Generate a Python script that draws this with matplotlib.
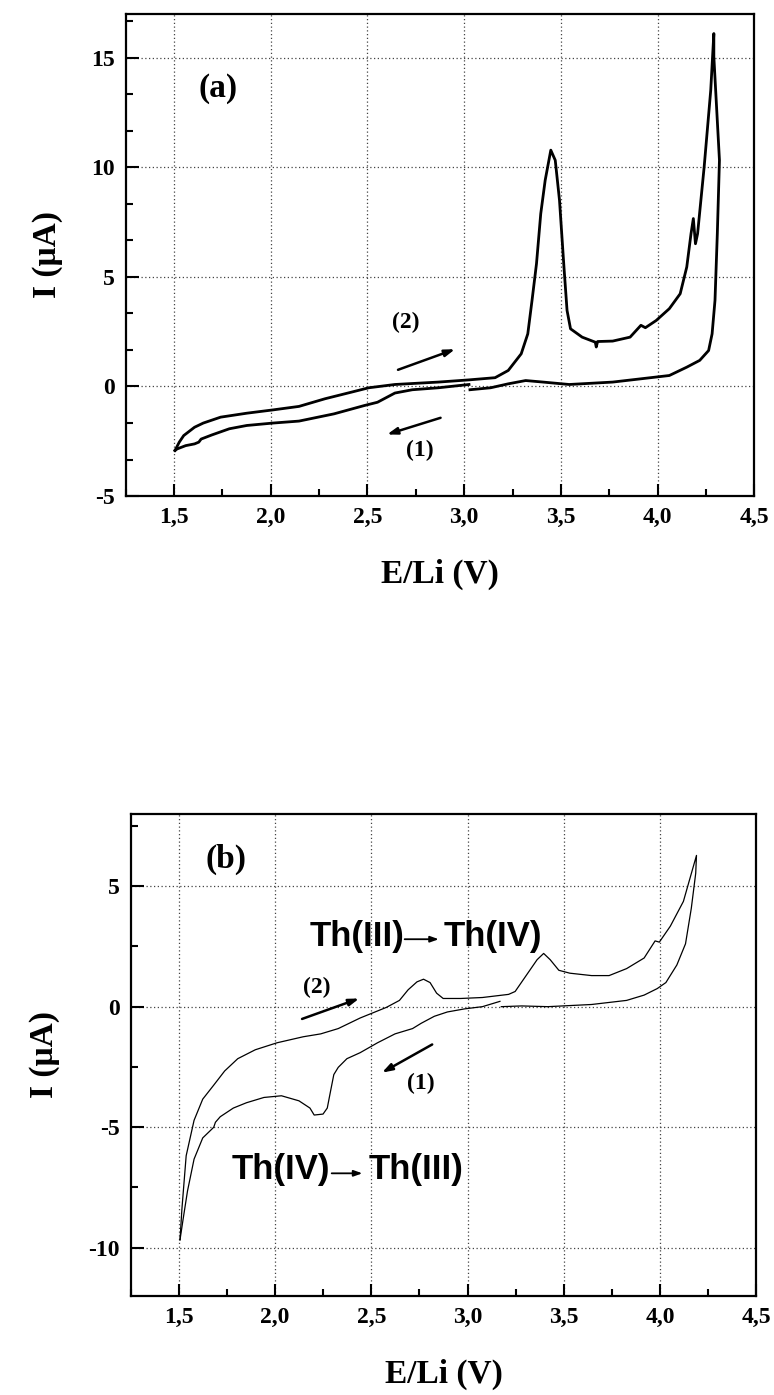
import numpy as np
import matplotlib
matplotlib.use("Agg")
import matplotlib.pyplot as plt
from matplotlib.ticker import MultipleLocator, AutoMinorLocator, FuncFormatter

# ---- panel (a): cyclic voltammogram, thick trace ----
# sweep (1): 3.03 V -> 1.5 V (lower branch)
a_sweep1_E = [3.025, 2.867, 2.732, 2.642, 2.552, 2.484, 2.327, 2.146, 2.011, 1.876,
              1.786, 1.696, 1.640, 1.628, 1.606, 1.560, 1.516, 1.505]
a_sweep1_I = [0.09, -0.06, -0.15, -0.30, -0.72, -0.87, -1.25, -1.58, -1.67, -1.78,
              -1.93, -2.21, -2.40, -2.54, -2.62, -2.70, -2.85, -2.92]
# sweep (2): 1.5 V -> 4.3 V and back to 3.03 V
a_sweep2_E = [1.505, 1.527, 1.550, 1.606, 1.651, 1.741, 1.876, 2.011, 2.146, 2.281,
              2.417, 2.507, 2.642, 2.867, 3.025, 3.160, 3.228, 3.295, 3.329, 3.351,
              3.374, 3.396, 3.419, 3.448, 3.471, 3.493, 3.516, 3.532, 3.550, 3.610,
              3.678, 3.683, 3.690, 3.768, 3.858, 3.914, 3.937, 3.993, 4.061, 4.117,
              4.151, 4.173, 4.185, 4.196, 4.207, 4.241, 4.275, 4.291, 4.291, 4.320,
              4.309, 4.297, 4.282, 4.264, 4.218, 4.151, 4.061, 3.993, 3.768, 3.543,
              3.408, 3.318, 3.228, 3.137, 3.030]
a_sweep2_I = [-2.92, -2.54, -2.24, -1.86, -1.67, -1.40, -1.22, -1.07, -0.91, -0.56,
              -0.26, -0.06, 0.09, 0.20, 0.30, 0.40, 0.73, 1.49, 2.40, 3.93,
              5.60, 7.88, 9.41, 10.78, 10.32, 8.49, 5.45, 3.47, 2.63, 2.25,
              2.02, 1.80, 2.05, 2.07, 2.25, 2.79, 2.68, 3.01, 3.55, 4.23,
              5.45, 6.97, 7.66, 6.51, 6.97, 10.02, 13.52, 16.10, 15.04, 10.32,
              6.97, 3.93, 2.40, 1.64, 1.19, 0.88, 0.50, 0.43, 0.20, 0.09,
              0.20, 0.27, 0.12, -0.06, -0.15]

# ---- panel (b): thin trace ----
b_sweep1_E = [3.168, 3.077, 2.986, 2.895, 2.827, 2.759, 2.714, 2.623, 2.532, 2.442,
              2.373, 2.328, 2.305, 2.287, 2.271, 2.249, 2.203, 2.181, 2.124, 2.033,
              1.942, 1.851, 1.783, 1.715, 1.690, 1.681, 1.624, 1.579, 1.545, 1.522, 1.506]
b_sweep1_I = [0.22, 0.00, -0.09, -0.22, -0.40, -0.69, -0.91, -1.13, -1.50, -1.91,
              -2.16, -2.52, -2.82, -3.55, -4.21, -4.46, -4.50, -4.21, -3.91, -3.70,
              -3.77, -3.99, -4.21, -4.57, -4.80, -5.01, -5.45, -6.33, -7.65, -8.83, -9.68]
b_sweep2_E = [1.506, 1.516, 1.538, 1.579, 1.624, 1.681, 1.738, 1.806, 1.897, 2.010,
              2.146, 2.237, 2.328, 2.442, 2.578, 2.646, 2.691, 2.737, 2.771, 2.805,
              2.839, 2.873, 2.964, 3.077, 3.213, 3.247, 3.304, 3.361, 3.395, 3.429,
              3.474, 3.531, 3.644, 3.735, 3.826, 3.917, 3.974, 3.996, 4.053, 4.121,
              4.189, 4.185, 4.162, 4.132, 4.087, 4.030, 3.985, 3.917, 3.826, 3.644,
              3.417, 3.281, 3.175]
b_sweep2_I = [-9.68, -8.39, -6.19, -4.72, -3.84, -3.26, -2.67, -2.16, -1.79, -1.50,
              -1.25, -1.13, -0.91, -0.47, -0.03, 0.26, 0.70, 1.03, 1.14, 1.00,
              0.56, 0.34, 0.34, 0.38, 0.51, 0.63, 1.29, 1.95, 2.21, 1.95,
              1.51, 1.39, 1.29, 1.29, 1.58, 2.02, 2.73, 2.68, 3.34, 4.37,
              6.28, 5.54, 4.08, 2.61, 1.73, 1.00, 0.75, 0.48, 0.26, 0.09,
              0.00, 0.03, 0.00]

xticks = [1.5, 2.0, 2.5, 3.0, 3.5, 4.0, 4.5]

serif = ['Liberation Serif', 'DejaVu Serif']
narrow = ['Liberation Sans Narrow', 'Liberation Sans', 'DejaVu Sans']

fig = plt.figure(figsize=(7.74, 13.95), dpi=100)
ax1 = fig.add_axes([0.1624, 0.6444, 0.8121, 0.3457])
ax2 = fig.add_axes([0.1689, 0.0712, 0.8083, 0.3453])

comma_x = FuncFormatter(lambda v, p: ('%.1f' % v).replace('.', ','))


def style(ax, ylim, ymajor, yminor_n):
    ax.set_xlim(1.25, 4.5)
    ax.set_ylim(*ylim)
    ax.set_xticks(xticks)
    ax.xaxis.set_minor_locator(MultipleLocator(0.25))
    ax.yaxis.set_major_locator(MultipleLocator(ymajor))
    ax.yaxis.set_minor_locator(AutoMinorLocator(yminor_n))
    ax.xaxis.set_major_formatter(comma_x)
    ax.yaxis.set_major_formatter(FuncFormatter(lambda v, p: '%d' % round(v)))
    ax.tick_params(which='major', direction='in', length=9, width=1.5,
                   top=False, right=False, pad=8)
    ax.tick_params(which='minor', direction='in', length=5, width=1.5,
                   top=False, right=False)
    for lab in ax.get_xticklabels() + ax.get_yticklabels():
        lab.set_family(serif)
        lab.set_fontweight('bold')
        lab.set_fontsize(17)
    for s in ax.spines.values():
        s.set_linewidth(1.6)
    ax.grid(True, which='major', linestyle=(0, (1, 2)), color='#444444', linewidth=0.9)
    ax.set_axisbelow(True)
    ax.set_xlabel('E/Li (V)', family=serif, fontweight='bold', fontsize=24, labelpad=22)
    ax.set_ylabel('I (\u03bcA)', family=serif, fontweight='bold', fontsize=24, labelpad=20)


style(ax1, (-5, 17), 5, 3)
style(ax2, (-12, 8), 5, 2)

# panel (a)
ax1.plot(a_sweep1_E, a_sweep1_I, color='black', lw=2.0)
ax1.plot(a_sweep2_E, a_sweep2_I, color='black', lw=2.0)
ax1.text(1.73, 13.6, '(a)', family=serif, fontweight='bold', fontsize=24,
         ha='center', va='center')
ax1.text(2.70, 2.94, '(2)', family=serif, fontweight='bold', fontsize=17,
         ha='center', va='center')
ax1.text(2.77, -2.92, '(1)', family=serif, fontweight='bold', fontsize=17,
         ha='center', va='center')
arrow = dict(arrowstyle='-|>,head_length=0.6,head_width=0.2', color='black', lw=1.8,
             shrinkA=0, shrinkB=0)
ax1.annotate('', xy=(2.953, 1.70), xytext=(2.658, 0.76), arrowprops=arrow)
ax1.annotate('', xy=(2.601, -2.19), xytext=(2.878, -1.43), arrowprops=arrow)

# panel (b)
ax2.plot(b_sweep1_E, b_sweep1_I, color='black', lw=0.9)
ax2.plot(b_sweep2_E, b_sweep2_I, color='black', lw=0.9)
ax2.text(1.743, 6.10, '(b)', family=serif, fontweight='bold', fontsize=24,
         ha='center', va='center')
ax2.text(2.215, 0.78, '(2)', family=serif, fontweight='bold', fontsize=17,
         ha='center', va='center')
ax2.text(2.759, -3.18, '(1)', family=serif, fontweight='bold', fontsize=17,
         ha='center', va='center')
ax2.annotate('', xy=(2.437, 0.34), xytext=(2.140, -0.51), arrowprops=arrow)
ax2.annotate('', xy=(2.555, -2.74), xytext=(2.816, -1.57), arrowprops=arrow)

small_arrow = dict(arrowstyle='-|>,head_length=0.5,head_width=0.18', color='black', lw=1.3,
                   shrinkA=0, shrinkB=0)
ax2.text(2.181, 2.90, 'Th(III)', family=narrow, fontweight='bold', fontsize=25,
         ha='left', va='center')
ax2.annotate('', xy=(2.850, 2.80), xytext=(2.673, 2.80), arrowprops=small_arrow)
ax2.text(2.877, 2.90, 'Th(IV)', family=narrow, fontweight='bold', fontsize=25,
         ha='left', va='center')
ax2.text(1.772, -6.77, 'Th(IV)', family=narrow, fontweight='bold', fontsize=25,
         ha='left', va='center')
ax2.annotate('', xy=(2.453, -6.92), xytext=(2.294, -6.92), arrowprops=small_arrow)
ax2.text(2.487, -6.77, 'Th(III)', family=narrow, fontweight='bold', fontsize=25,
         ha='left', va='center')

fig.savefig('out.png', dpi=100)
